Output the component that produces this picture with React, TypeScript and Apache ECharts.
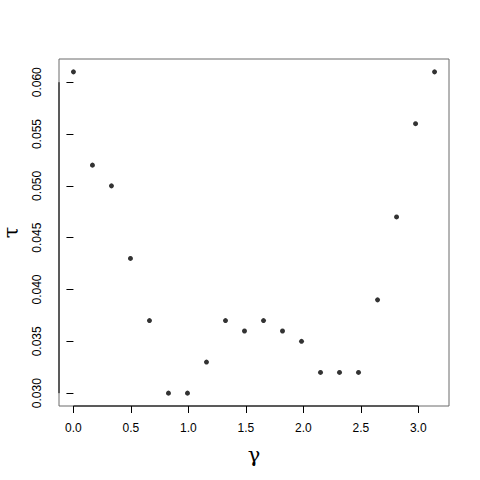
import React, { useEffect, useRef } from "react";
import * as echarts from "echarts";

const gammaValues = [
  0, 0.1653, 0.3307, 0.4960, 0.6614, 0.8267, 0.9921, 1.1574, 1.3228, 1.4881,
  1.6535, 1.8188, 1.9842, 2.1495, 2.3149, 2.4802, 2.6456, 2.8109, 2.9762, 3.1416,
];
const tauValues = [
  0.061, 0.052, 0.05, 0.043, 0.037, 0.03, 0.03, 0.033, 0.037, 0.036,
  0.037, 0.036, 0.035, 0.032, 0.032, 0.032, 0.039, 0.047, 0.056, 0.061,
];
const xTicks = [0, 0.5, 1, 1.5, 2, 2.5, 3];
const yTicks = [0.03, 0.035, 0.04, 0.045, 0.05, 0.055, 0.06];

export default function App() {
  const ref = useRef<HTMLDivElement>(null);
  useEffect(() => {
    if (!ref.current) return;
    const chart = echarts.init(ref.current, null, { renderer: "svg" });
    const xr = gammaValues[gammaValues.length - 1] - gammaValues[0];
    const yMin = Math.min(...tauValues);
    const yMax = Math.max(...tauValues);
    const yr = yMax - yMin;
    const font = "'Liberation Sans', Arial, Helvetica, sans-serif";
    chart.setOption({
      animation: false,
      backgroundColor: "#ffffff",
      grid: {
        left: 59,
        right: 31,
        top: 59,
        bottom: 74,
        containLabel: false,
        outerBoundsMode: "none",
        show: true,
        borderColor: "#6a6a6a",
        borderWidth: 1,
        backgroundColor: "transparent",
      },
      xAxis: {
        type: "value",
        min: gammaValues[0] - 0.04 * xr,
        max: gammaValues[gammaValues.length - 1] + 0.04 * xr,
        splitLine: { show: false },
        axisLine: { show: false },
        axisTick: {
          show: true,
          length: 7,
          customValues: xTicks,
          lineStyle: { color: "#000", width: 1 },
        },
        axisLabel: {
          customValues: xTicks,
          formatter: (v: number) => v.toFixed(1),
          color: "#000",
          fontSize: 12,
          fontFamily: font,
          margin: 16,
        },
        name: "γ",
        nameLocation: "middle",
        nameGap: 38,
        nameTextStyle: { fontSize: 21, color: "#000", fontFamily: "'DejaVu Serif', serif" },
      },
      yAxis: {
        type: "value",
        min: yMin - 0.04 * yr,
        max: yMax + 0.04 * yr,
        splitLine: { show: false },
        axisLine: { show: false },
        axisTick: {
          show: true,
          length: 7,
          customValues: yTicks,
          lineStyle: { color: "#000", width: 1 },
        },
        axisLabel: {
          customValues: yTicks,
          formatter: (v: number) => v.toFixed(3),
          color: "#000",
          fontSize: 12,
          fontFamily: font,
          rotate: 90,
          margin: 16,
        },
        name: "τ",
        nameLocation: "middle",
        nameGap: 41,
        nameRotate: 90,
        nameTextStyle: { fontSize: 21, lineHeight: 14, color: "#000", fontFamily: "'DejaVu Serif', serif" },
      },
      series: [
        {
          type: "scatter",
          data: gammaValues.map((g, i) => [g, tauValues[i]]),
          symbol: "circle",
          symbolSize: 5,
          itemStyle: { color: "#000" },
        },
      ],
    });
    const p0 = chart.convertToPixel({ gridIndex: 0 }, [xTicks[0], yTicks[0]]) as number[];
    const p1 = chart.convertToPixel({ gridIndex: 0 }, [xTicks[xTicks.length - 1], yTicks[yTicks.length - 1]]) as number[];
    const bottomY = 406;
    const leftX = 59;
    chart.setOption({
      graphic: [
        { type: "line", shape: { x1: p0[0], y1: bottomY, x2: p1[0], y2: bottomY }, style: { stroke: "#000", lineWidth: 1 } },
        { type: "line", shape: { x1: leftX, y1: p0[1], x2: leftX, y2: p1[1] }, style: { stroke: "#000", lineWidth: 1 } },
      ],
    });
    return () => chart.dispose();
  }, []);
  return <div ref={ref} style={{ width: 480, height: 480, position: "absolute", left: 0, top: 0 }} />;
}
